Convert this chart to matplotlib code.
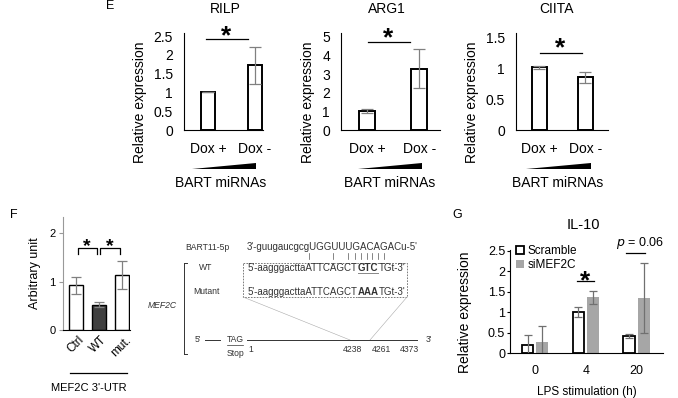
import matplotlib
matplotlib.use('Agg')
import matplotlib.pyplot as plt
from matplotlib.patches import Rectangle, Polygon, Patch
from matplotlib.ticker import FuncFormatter, MultipleLocator

plt.rcParams['font.family'] = ['Liberation Sans', 'DejaVu Sans']

W, H = 678, 398

# panel E
e_groups = ['Dox +', 'Dox -']
rilp_mean = [1.0, 1.72]
rilp_err = [0.0, 0.5]
arg1_mean = [1.03, 3.3]
arg1_err = [0.12, 1.05]
ciita_mean = [1.01, 0.85]
ciita_err = [0.02, 0.09]

# panel F
f_labels = ['Ctrl', 'WT', 'mut.']
f_mean = [0.92, 0.52, 1.14]
f_err = [0.18, 0.05, 0.29]
f_colors = ['white', '#404040', 'white']

# panel G
g_times = ['0', '4', '20']
g_scramble = [0.19, 1.0, 0.41]
g_scramble_err = [0.24, 0.13, 0.05]
g_si = [0.27, 1.36, 1.35]
g_si_err = [0.38, 0.15, 0.86]

fig = plt.figure(figsize=(W / 100, H / 100), dpi=100)
fmt = FuncFormatter(lambda v, p: '%g' % v)


def px_axes(l, t, r, b):
    ax = fig.add_axes([l / W, 1 - b / H, (r - l) / W, (b - t) / H])
    ax.patch.set_visible(False)
    for s in ['top', 'right']:
        ax.spines[s].set_visible(False)
    return ax


def e_panel(l, r, xlim, ytop, step, mean, err, width):
    ax = px_axes(l, 33, r, 130)
    x = list(range(len(mean)))
    ax.bar(x, mean, width=width, color='white', edgecolor='black', linewidth=1.4, zorder=2)
    ax.errorbar(x, mean, yerr=err, fmt='none', ecolor='#808080', elinewidth=0.9,
                capsize=4, capthick=0.9, zorder=3)
    ax.set_xlim(*xlim)
    ax.set_ylim(0, ytop)
    ax.yaxis.set_major_locator(MultipleLocator(step))
    ax.yaxis.set_major_formatter(fmt)
    ax.set_xticks(x)
    ax.set_xticklabels(e_groups)
    ax.tick_params(axis='y', length=0, pad=8, labelsize=10)
    ax.tick_params(axis='x', length=0, pad=8.5, labelsize=10)
    for s in ['left', 'bottom']:
        ax.spines[s].set_linewidth(0.8)
    return ax


e_panel(184, 263, (-0.51, 1.17), 2.58, 0.5, rilp_mean, rilp_err, 0.31)
e_panel(341, 440, (-0.5, 1.4), 5.21, 1, arg1_mean, arg1_err, 0.31)
e_panel(516, 608, (-0.51, 1.49), 1.565, 0.5, ciita_mean, ciita_err, 0.33)

# panel F
axf = px_axes(63, 217, 130, 330)
xf = list(range(len(f_mean)))
axf.bar(xf, f_mean, width=0.62, color=f_colors, edgecolor='black', linewidth=1.0, zorder=2)
axf.errorbar(xf, f_mean, yerr=f_err, fmt='none', ecolor='#808080', elinewidth=0.9,
             capsize=3.5, capthick=0.9, zorder=3)
axf.set_xlim(-0.57, 2.37)
axf.set_ylim(0, 2.33)
axf.set_yticks([0, 1, 2])
axf.set_xticks(xf)
axf.set_xticklabels(f_labels, rotation=45, ha='center', va='top')
axf.tick_params(axis='y', length=3, pad=2.5, labelsize=8, color='#999999')
axf.tick_params(axis='x', length=0, pad=3, labelsize=8.5)
axf.spines['left'].set_color('#999999')
axf.spines['left'].set_linewidth(0.8)
axf.spines['bottom'].set_linewidth(0.8)
axf.set_ylabel('Arbitrary unit', fontsize=9, labelpad=6)

# panel G
axg = px_axes(510, 250, 663, 353)
xg = list(range(len(g_times)))
off = 0.145
axg.bar([i - off for i in xg], g_scramble, width=0.23, color='white', edgecolor='black',
        linewidth=1.3, zorder=2, label='Scramble')
axg.bar([i + off for i in xg], g_si, width=0.23, color='#a6a6a6', edgecolor='none',
        zorder=2, label='siMEF2C')
axg.errorbar([i - off for i in xg], g_scramble, yerr=g_scramble_err, fmt='none', ecolor='#707070',
             elinewidth=0.9, capsize=3, capthick=0.9, zorder=3)
axg.errorbar([i + off for i in xg], g_si, yerr=g_si_err, fmt='none', ecolor='#707070',
             elinewidth=0.9, capsize=3, capthick=0.9, zorder=3)
axg.set_xlim(-0.49, 2.52)
axg.set_ylim(0, 2.52)
axg.yaxis.set_major_locator(MultipleLocator(0.5))
axg.yaxis.set_major_formatter(fmt)
axg.set_xticks(xg)
axg.set_xticklabels(g_times)
axg.tick_params(axis='y', length=2.5, pad=1, labelsize=9)
axg.tick_params(axis='x', length=0, pad=9, labelsize=9)
for s in ['left', 'bottom']:
    axg.spines[s].set_linewidth(0.8)
axg.set_xlabel('LPS stimulation (h)', fontsize=8.5, labelpad=6)
axg.legend(handles=[Patch(facecolor='white', edgecolor='black', linewidth=1.3, label='Scramble'),
                    Patch(facecolor='#a6a6a6', edgecolor='none', label='siMEF2C')],
           loc='upper left', bbox_to_anchor=(516 / W, 1 - 245 / H), bbox_transform=fig.transFigure,
           frameon=False, fontsize=8.5, handlelength=0.7, handleheight=0.7,
           handletextpad=0.3, labelspacing=0.2, borderpad=0, borderaxespad=0)

# overlay in pixel coordinates for labels and the schematic
ax0 = fig.add_axes([0, 0, 1, 1])
ax0.set_xlim(0, W)
ax0.set_ylim(H, 0)
ax0.axis('off')

ax0.text(110, 6, 'E', fontsize=9, ha='center', va='center')
ax0.text(14, 215, 'F', fontsize=9, ha='center', va='center')
ax0.text(457, 215, 'G', fontsize=9, ha='center', va='center')

for cx, title in [(225, 'RILP'), (387, 'ARG1'), (557, 'CIITA')]:
    ax0.text(cx, 9, title, fontsize=10, ha='center', va='center')
ax0.text(583, 225, 'IL-10', fontsize=10.5, ha='center', va='center')

for xl in [140, 308, 472]:
    ax0.text(xl, 102, 'Relative expression', fontsize=10, rotation=90, ha='center', va='center')
ax0.text(465, 312, 'Relative expression', fontsize=10, rotation=90, ha='center', va='center')

for x1, x2, cx in [(192, 256, 221), (358, 422, 390), (526, 591, 558)]:
    ax0.add_patch(Polygon([(x1, 169), (x2, 169), (x2, 163)], closed=True, color='black', lw=0))
    ax0.text(cx, 183, 'BART miRNAs', fontsize=10, ha='center', va='center')

star = dict(fontsize=19, fontweight='bold', ha='center', va='baseline')
for x1, x2, ly, sx, sy in [(206, 248, 39, 226, 28), (368, 410, 42, 388, 30), (540, 582, 53, 560, 40),
                           (577, 594, 281, 585, 273)]:
    ax0.plot([x1, x2], [ly, ly], color='black', lw=0.9)
    ax0.text(sx, sy + 15, '*', **star)

# F brackets
for x1, x2, sx in [(78, 97, 87), (100, 120, 110)]:
    ax0.plot([x1, x1, x2, x2], [254, 248, 248, 254], color='black', lw=0.9)
    ax0.text(sx, 240 + 11, '*', fontsize=14, fontweight='bold', ha='center', va='baseline')
ax0.plot([70, 127], [373, 373], color='black', lw=0.9)
ax0.text(89, 388, "MEF2C 3'-UTR", fontsize=8, ha='center', va='center')

# G p value
ax0.plot([626, 645], [253, 253], color='black', lw=0.9)
ax0.text(640, 243, '$\\it{p}$ = 0.06', fontsize=9, ha='center', va='center')

# schematic
dc = '#333333'
small = 6.2
ax0.text(185, 247, 'BART11-5p', fontsize=small, color=dc, ha='left', va='center')
renderer = fig.canvas.get_renderer()


def sequence(x, y, parts, size):
    for s, bold, under in parts:
        t = ax0.text(x, y, s, fontsize=size, color=dc, ha='left', va='center',
                     fontweight='bold' if bold else 'normal')
        w = t.get_window_extent(renderer).width
        if under:
            ax0.plot([x, x + w], [y + 4.5, y + 4.5], color='#888888', lw=0.7)
        x += w


seq_size = 7.0
sequence(247, 247, [("3'-guugaucgcgUGGUUUGACAGACu-5'", False, False)], seq_size)
for tx in [309, 333, 348, 355, 361, 367, 372, 378, 384]:
    ax0.plot([tx, tx], [253, 259], color='#555555', lw=0.5)
sequence(248, 268, [("5'-aagggacttaATTCAGCT", False, False), ('GTC', True, True), ("TGt-3'", False, False)], seq_size)
sequence(248, 292, [("5'-aagggacttaATTCAGCT", False, False), ('AAA', True, True), ("TGt-3'", False, False)], seq_size)
ax0.add_patch(Rectangle((243, 263), 164, 34, fill=False, ls=(0, (2, 1.5)), lw=0.6, ec='#666666'))
ax0.plot([184, 184], [263, 354], color=dc, lw=0.7)
ax0.plot([184, 187], [263, 263], color=dc, lw=0.7)
ax0.plot([184, 187], [354, 354], color=dc, lw=0.7)
ax0.text(199, 268, 'WT', fontsize=small, color=dc, ha='left', va='center')
ax0.text(193, 292, 'Mutant', fontsize=small, color=dc, ha='left', va='center')
ax0.text(148, 305, 'MEF2C', fontsize=small, style='italic', color=dc, ha='left', va='center')
ax0.plot([243, 350], [297, 340], color='#aaaaaa', lw=0.4)
ax0.plot([407, 370], [297, 340], color='#aaaaaa', lw=0.4)
ax0.text(195, 340, "5'", fontsize=small, color=dc, ha='left', va='center')
ax0.plot([205, 220], [340, 340], color=dc, lw=0.7)
ax0.text(227, 340, 'TAG', fontsize=small, color=dc, ha='left', va='center')
ax0.plot([227, 243], [344.5, 344.5], color=dc, lw=0.5)
ax0.plot([247, 417], [340, 340], color=dc, lw=0.7)
ax0.text(426, 340, "3'", fontsize=small, color=dc, ha='left', va='center')
ax0.text(227, 353, 'Stop', fontsize=small, color=dc, ha='left', va='center')
for nx, ny, num in [(251, 349, '1'), (352, 350, '4238'), (381, 350, '4261'), (409, 349, '4373')]:
    ax0.text(nx, ny, num, fontsize=small, color=dc, ha='center', va='center')

fig.savefig('out.png', dpi=100)
